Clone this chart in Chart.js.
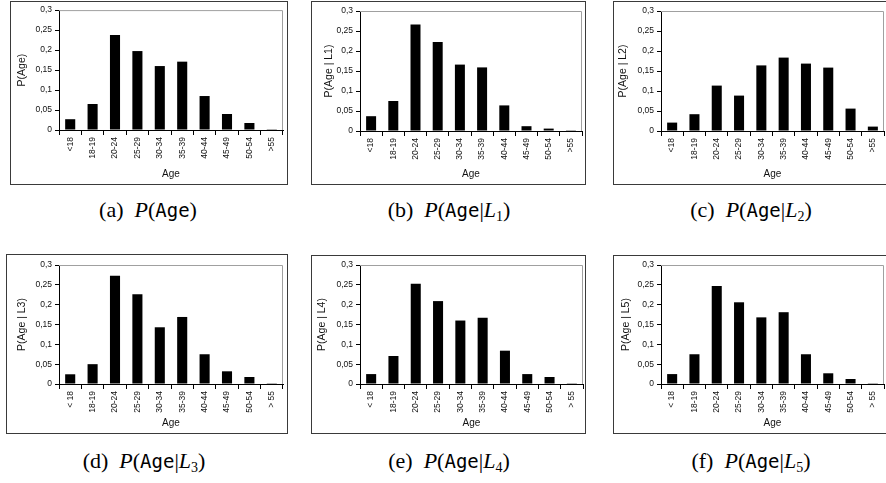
<!DOCTYPE html>
<html>
<head>
<meta charset="utf-8">
<script src="https://cdn.jsdelivr.net/npm/chart.js@4"></script>
<style>
    html, body { margin: 0; padding: 0; background: #fff; }
    body { width: 886px; height: 483px; position: relative; overflow: hidden; }
    .panel { position: absolute; box-sizing: border-box; border: 1px solid #3a3a3a; background: #fff; }
    .panel canvas { display: block; }
    .caption {
        position: absolute; width: 300px; text-align: center;
        font-family: "Liberation Serif", "DejaVu Serif", serif; font-size: 22px; color: #000;
        line-height: 24px; white-space: nowrap;
    }
    .caption i { font-style: italic; }
    .caption .tt { font-family: "DejaVu Sans Mono", "Liberation Mono", monospace; font-size: 19px; }
    .caption sub { font-size: 14px; vertical-align: -4px; line-height: 0; }
</style>
</head>
<body>
<script>
// categories
const agesTop = ['<18', '18-19', '20-24', '25-29', '30-34', '35-39', '40-44', '45-49', '50-54', '>55'];
const agesBottom = ['< 18', '18-19', '20-24', '25-29', '30-34', '35-39', '40-44', '45-49', '50-54', '> 55'];

// series values
const pAge = [0.027, 0.065, 0.2375, 0.1975, 0.160, 0.171, 0.085, 0.040, 0.0175, 0.002];
const pL1  = [0.037, 0.075, 0.266, 0.2225, 0.166, 0.159, 0.064, 0.012, 0.006, 0.002];
const pL2  = [0.021, 0.042, 0.1135, 0.0885, 0.164, 0.1835, 0.1685, 0.1585, 0.056, 0.011];
const pL3  = [0.0245, 0.050, 0.273, 0.226, 0.143, 0.169, 0.075, 0.032, 0.0177, 0.002];
const pL4  = [0.025, 0.0706, 0.253, 0.209, 0.160, 0.167, 0.084, 0.025, 0.0177, 0.002];
const pL5  = [0.025, 0.075, 0.247, 0.206, 0.168, 0.181, 0.075, 0.027, 0.0126, 0.002];

// y ticks
const yMin = 0, yMax = 0.3, yStep = 0.05;

// panel frames: box = outer frame, plot = chart area (page coordinates)
const panels = [
    { labels: agesTop,    data: pAge, yTitle: 'P(Age)',      cap: ['a', null], box: [10, 1, 278, 184],  plot: [59, 10, 283, 130],  yTitlePad: 5 },
    { labels: agesTop,    data: pL1,  yTitle: 'P(Age | L1)', cap: ['b', '1'],  box: [311, 1, 275, 184], plot: [360, 11, 582, 131], yTitlePad: 11 },
    { labels: agesTop,    data: pL2,  yTitle: 'P(Age | L2)', cap: ['c', '2'],  box: [613, 1, 276, 184], plot: [661, 11, 884, 131], yTitlePad: 3 },
    { labels: agesBottom, data: pL3,  yTitle: 'P(Age | L3)', cap: ['d', '3'],  box: [6, 254, 282, 180], plot: [59, 265, 283, 384], yTitlePad: 9 },
    { labels: agesBottom, data: pL4,  yTitle: 'P(Age | L4)', cap: ['e', '4'],  box: [311, 255, 275, 179], plot: [360, 265, 583, 384], yTitlePad: 4 },
    { labels: agesBottom, data: pL5,  yTitle: 'P(Age | L5)', cap: ['f', '5'],  box: [613, 255, 276, 179], plot: [661, 265, 884, 384], yTitlePad: 6 }
];

const captionY = [198, 449];

// grey frame on top and right of the plot area
const plotFrame = {
    id: 'plotFrame',
    afterDraw(chart) {
        const { ctx, chartArea: a } = chart;
        ctx.save();
        ctx.strokeStyle = '#a0a0a0';
        ctx.lineWidth = 1;
        ctx.beginPath();
        ctx.moveTo(a.left, a.top + 0.5);
        ctx.lineTo(a.right - 0.5, a.top + 0.5);
        ctx.lineTo(a.right - 0.5, a.bottom);
        ctx.stroke();
        ctx.restore();
    }
};

const fontFamily = '"Liberation Sans", "DejaVu Sans", sans-serif';

panels.forEach((p, i) => {
    const [bx, by, bw, bh] = p.box;
    const cx = bx + 1, cy = by + 1, cw = bw - 2, ch = bh - 2;
    const [pl, pt, pr, pb] = p.plot;

    const div = document.createElement('div');
    div.className = 'panel';
    div.style.left = bx + 'px';
    div.style.top = by + 'px';
    div.style.width = bw + 'px';
    div.style.height = bh + 'px';
    const canvas = document.createElement('canvas');
    canvas.width = cw;
    canvas.height = ch;
    div.appendChild(canvas);
    document.body.appendChild(div);

    const yAxisWidth = pl - cx;
    const xAxisHeight = (cy + ch) - pb;

    new Chart(canvas, {
        type: 'bar',
        data: {
            labels: p.labels,
            datasets: [{
                data: p.data,
                backgroundColor: '#000',
                borderWidth: 0,
                barPercentage: 0.45,
                categoryPercentage: 1
            }]
        },
        options: {
            responsive: false,
            animation: false,
            events: [],
            layout: { padding: { top: pt - cy, right: (cx + cw) - pr, left: 0, bottom: 0 } },
            plugins: { legend: { display: false }, tooltip: { enabled: false } },
            scales: {
                x: {
                    grid: { display: true, drawOnChartArea: false, drawTicks: true, tickLength: 5, color: '#000', offset: true },
                    border: { color: '#000', width: 1 },
                    ticks: {
                        color: '#111', font: { family: fontFamily, size: 8.5 },
                        minRotation: 90, maxRotation: 90, padding: 2, autoSkip: false
                    },
                    title: {
                        display: true, text: 'Age', color: '#111',
                        font: { family: fontFamily, size: 10 }, padding: { top: 0, bottom: 4 }
                    },
                    afterFit(scale) { scale.height = xAxisHeight; }
                },
                y: {
                    min: yMin, max: yMax,
                    grid: { display: true, drawOnChartArea: false, drawTicks: true, tickLength: 4, color: '#000' },
                    border: { color: '#000', width: 1 },
                    ticks: {
                        stepSize: yStep, color: '#111', padding: 3,
                        font: { family: fontFamily, size: 8.5 },
                        callback: v => String(+v.toFixed(2)).replace('.', ',')
                    },
                    title: {
                        display: true, text: p.yTitle, color: '#111',
                        font: { family: fontFamily, size: 10.5 }, padding: { top: p.yTitlePad, bottom: 0 }
                    },
                    afterFit(scale) { scale.width = yAxisWidth; }
                }
            }
        },
        plugins: [plotFrame]
    });

    // caption under the panel
    const cap = document.createElement('div');
    cap.className = 'caption';
    cap.style.left = (bx + 138 - 150) + 'px';
    cap.style.top = captionY[Math.floor(i / 3)] + 'px';
    const inner = p.cap[1] === null
        ? '<span class="tt">Age</span>'
        : '<span class="tt">Age</span>|<i>L</i><sub>' + p.cap[1] + '</sub>';
    cap.innerHTML = '(' + p.cap[0] + ') &nbsp;<i>P</i>(' + inner + ')';
    document.body.appendChild(cap);
});
</script>
</body>
</html>
